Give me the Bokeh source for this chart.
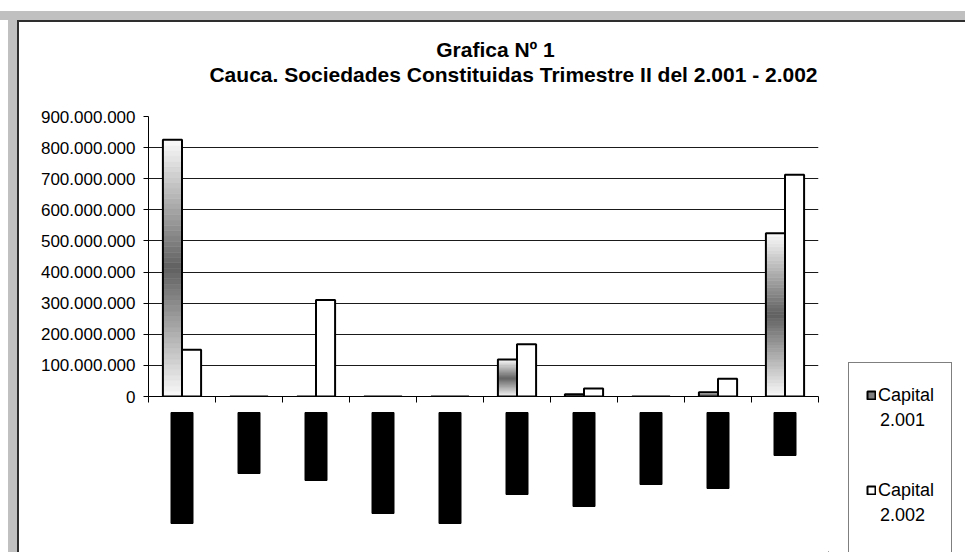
import numpy as np
from bokeh.plotting import figure
from bokeh.models import (Range1d, FixedTicker, CustomJSTickFormatter, Label, Legend,
                          LegendItem, ColumnDataSource, Div)
from bokeh.layouts import column, row
from bokeh.embed import file_html
from bokeh.resources import INLINE

# ---------------- data ----------------
categories = ["Sector 1", "Sector 2", "Sector 3", "Sector 4", "Sector 5",
              "Sector 6", "Sector 7", "Sector 8", "Sector 9", "Sector 10"]
cap_2001 = [825e6, 0, 0, 0, 0, 119e6, 7e6, 0, 14e6, 525e6]
cap_2002 = [150e6, 0, 310e6, 0, 0, 168e6, 26e6, 0, 57e6, 713e6]
# the category labels appear as solid black blocks in the picture (length in px)
label_block_len = [111, 61, 68, 101, 111, 82, 94, 72, 76, 43]
series_line1 = ["Capital", "Capital"]
series_line2 = ["2.001", "2.002"]
y_ticks = [0, 100000000, 200000000, 300000000, 400000000, 500000000,
           600000000, 700000000, 800000000, 900000000]
y_tick_labels = ["0", "100.000.000", "200.000.000", "300.000.000", "400.000.000",
                 "500.000.000", "600.000.000", "700.000.000", "800.000.000", "900.000.000"]
title_1 = "Grafica Nº 1"
title_2 = "Cauca. Sociedades Constituidas Trimestre II del 2.001 - 2.002"

FONT = "Liberation Sans"
n = len(categories)
centers = np.arange(n) + 0.5
bar_w = 0.285
W_LEFT, W_FRAME, W_RIGHT = 129, 670, 10
W_CHART = W_LEFT + W_FRAME + W_RIGHT


def bare(width, height, x_range, y_range, **kw):
    f = figure(width=width, height=height, x_range=x_range, y_range=y_range,
               output_backend="svg", toolbar_location=None, title=None,
               x_axis_location=None, y_axis_location=None, frame_align=False,
               background_fill_color="white", border_fill_color="white",
               outline_line_color=None, **kw)
    f.grid.visible = False
    return f


# ---------------- title strip ----------------
H_T = 82
tf = bare(W_CHART, H_T, Range1d(0, W_CHART), Range1d(H_T, 0), min_border=0)
tf.add_layout(Label(x=476, y=27, text=title_1, text_align="center",
                    text_baseline="alphabetic", text_font=FONT, text_font_size="21px",
                    text_font_style="bold", text_color="black"))
tf.add_layout(Label(x=494, y=52, text=title_2, text_align="center",
                    text_baseline="alphabetic", text_font=FONT, text_font_size="21px",
                    text_font_style="bold", text_color="black"))

# ---------------- main chart ----------------
p = figure(width=W_CHART, height=302, x_range=Range1d(0, n), y_range=Range1d(0, 900e6),
           output_backend="svg", toolbar_location=None, title=None, frame_align=False,
           min_border_left=W_LEFT, min_border_right=W_RIGHT, min_border_top=12,
           min_border_bottom=10, background_fill_color="white",
           border_fill_color="white", outline_line_color=None)

# x axis: ticks at category boundaries, labels hidden (shown as blocks below)
p.xaxis.ticker = FixedTicker(ticks=list(range(n + 1)))
p.xaxis.formatter = CustomJSTickFormatter(code="return ''")
p.xaxis.major_label_standoff = 0
p.xaxis.major_tick_out = 6
p.xaxis.major_tick_in = 0
p.xaxis.minor_tick_line_color = None
p.xaxis.axis_line_color = "black"
p.xaxis.major_tick_line_color = "black"
p.xgrid.visible = False

p.yaxis.ticker = FixedTicker(ticks=y_ticks)
p.yaxis.major_label_overrides = dict(zip(y_ticks, y_tick_labels))
p.yaxis.major_label_text_font = FONT
p.yaxis.major_label_text_font_size = "17px"
p.yaxis.major_label_text_color = "black"
p.yaxis.major_tick_out = 5
p.yaxis.major_tick_in = 0
p.yaxis.major_label_standoff = 8
p.yaxis.minor_tick_line_color = None
p.yaxis.axis_line_color = "black"
p.yaxis.major_tick_line_color = "black"
p.ygrid.ticker = FixedTicker(ticks=y_ticks)
p.ygrid.grid_line_color = "#1a1a1a"
p.ygrid.grid_line_width = 1

# 2.001 bars: vertical gradient (light - dark - light), built from slices
n_sl = 48
light, dark = 250, 96
gx, gb, gt, gc = [], [], [], []
for c, v in zip(centers, cap_2001):
    if v <= 0:
        continue
    for k in range(n_sl):
        t = (k + 0.5) / n_sl
        g = int(round(light - (light - dark) * (1 - abs(2 * t - 1))))
        gx.append(c - bar_w / 2)
        gb.append(v * k / n_sl)
        gt.append(v * (k + 1) / n_sl)
        gc.append("#%02x%02x%02x" % (g, g, g))
p.vbar(x=gx, bottom=gb, top=gt, width=bar_w, fill_color=gc, line_color=gc, line_width=0.6)
p.vbar(x=centers - bar_w / 2, bottom=0, top=cap_2001, width=bar_w,
       fill_color=None, line_color="black", line_width=2)
# 2.002 bars
p.vbar(x=centers + bar_w / 2, bottom=0, top=cap_2002, width=bar_w,
       fill_color="white", line_color="black", line_width=2)

# ---------------- category label blocks ----------------
lf = bare(W_CHART, 146, p.x_range, Range1d(140, -6),
          min_border_left=W_LEFT, min_border_right=W_RIGHT, min_border_top=0,
          min_border_bottom=0)
lf.vbar(x=centers, bottom=0, top=label_block_len, width=22 / 67,
        fill_color="black", line_color="black")

# ---------------- legend panel ----------------
lg = bare(137, 530, Range1d(0, 1), Range1d(0, 1), min_border=0)
off = dict(x=[-5], bottom=[-6], top=[-5])  # proxies outside the view, legend swatches only
r1 = lg.vbar(x="x", bottom="bottom", top="top", width=0.1,
             source=ColumnDataSource(dict(off)),
             fill_color="#7f7f7f", line_color="black", line_width=2)
r2 = lg.vbar(x="x", bottom="bottom", top="top", width=0.1,
             source=ColumnDataSource(dict(off)),
             fill_color="white", line_color="black", line_width=2)
r3 = lg.vbar(x="x", bottom="bottom", top="top", width=0.1,
             source=ColumnDataSource(dict(off)),
             fill_color=None, line_color=None)
common = dict(label_text_font=FONT, label_text_font_size="18px", label_text_color="black",
              glyph_width=10, glyph_height=10, label_height=30, label_standoff=2,
              padding=17, spacing=65, margin=0)
legend_a = Legend(items=[LegendItem(label=series_line1[0], renderers=[r1]),
                         LegendItem(label=series_line1[1], renderers=[r2]),
                         LegendItem(label=" ", renderers=[r3])],
                  location=(20, -66), border_line_color="black", border_line_width=1,
                  background_fill_color="white", background_fill_alpha=1, **common)
legend_b = Legend(items=[LegendItem(label=series_line2[0], renderers=[r3]),
                         LegendItem(label=series_line2[1], renderers=[r3])],
                  location=(40, 22), border_line_color=None, background_fill_alpha=0,
                  **common)
lg.add_layout(legend_a)
lg.add_layout(legend_b)

# ---------------- frame (gray border like the source sheet) ----------------
def block(w, h, color):
    return Div(width=w, height=h, margin=0, styles={"background-color": color})

content = row(block(2, 530, "#2e2e2e"), column(tf, p, lf, spacing=0, margin=0), lg,
              spacing=0, margin=0)
inner = column(block(948, 2, "#2e2e2e"), content, spacing=0, margin=0)
body = row(block(8, 532, "white"), block(9, 532, "#c0c0c0"), inner, spacing=0, margin=0)
root = column(block(965, 11, "white"), block(965, 9, "#c0c0c0"), body, spacing=0, margin=0)

open("out.html", "w").write(file_html(root, INLINE, title="Grafica Nº 1"))
